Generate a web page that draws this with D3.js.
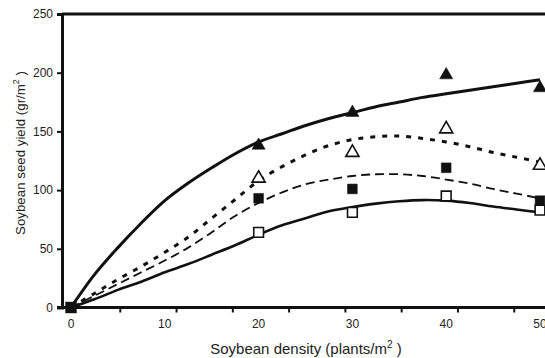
<!DOCTYPE html>
<html><head><meta charset="utf-8">
<script src="https://cdn.jsdelivr.net/npm/d3@7"></script>
<style>body{margin:0;background:#fff}svg{display:block}text{font-family:"Liberation Sans",Arial,sans-serif;fill:#222}</style>
</head><body><svg id="c" width="545" height="358"></svg>
<script>
// ---- data ----
const densities = [0, 20, 30, 40, 50];
const filledTriangle = [0, 138, 166, 198, 187];
const openTriangle   = [0, 110, 132, 152, 121];
const filledSquare   = [0, 93, 101, 119, 91];
const openSquare     = [0, 64, 81, 95, 83];

const curveX = [0, 2.5, 5, 7.5, 10, 12.5, 15, 17.5, 20, 22.5, 25, 27.5, 30, 32.5, 35, 37.5, 40, 42.5, 45, 47.5, 50];
const fitFilledTriangle = [0, 28, 51, 72, 91, 106, 119, 131, 141, 148, 155, 161, 166, 171, 175, 179, 182, 185, 188, 191, 194];
const fitOpenTriangle   = [0, 12, 24, 35, 47, 60, 76, 92, 108, 120, 130, 138, 143, 145.5, 146, 144, 141, 137, 132, 128, 124];
const fitFilledSquare   = [0, 10, 20, 30, 40, 51, 64, 78, 89, 98, 105, 109, 112, 113.5, 113.5, 112, 109, 105.5, 101, 97, 93];
const fitOpenSquare     = [0, 7, 15, 22, 30, 37, 45, 53, 62, 70, 76, 82, 85.5, 88.5, 90.5, 91.5, 91, 89, 86, 83.5, 81];

const xTickLabels = [0, 10, 20, 30, 40, 50];
const xTickMarks = [5.2, 11.2, 17.2, 23.2, 29.2, 35.2, 41.2, 47.2];
const yTicks = [0, 50, 100, 150, 200, 250];

// ---- drawing ----
const svg = d3.select("#c");
const x = d3.scaleLinear().domain([0, 50]).range([71, 540]);
const y = d3.scaleLinear().domain([0, 250]).range([307.5, 14]);
const axisLeftX = 62, xEnd = 560;

// frame: top line
svg.append("line").attr("x1", axisLeftX).attr("x2", xEnd).attr("y1", y(250)).attr("y2", y(250))
  .attr("stroke", "#111").attr("stroke-width", 3);

// y axis
const ya = svg.append("g").attr("transform", `translate(${axisLeftX},0)`)
  .call(d3.axisLeft(y).tickValues(yTicks).tickSize(5).tickPadding(4).tickFormat(d3.format("d")));
ya.select(".domain").attr("stroke", "#111").attr("stroke-width", 3);
ya.selectAll(".tick line").attr("stroke", "#111").attr("stroke-width", 2);
ya.selectAll(".tick text").attr("font-size", 12).attr("fill", "#333").style("font-family", "Liberation Sans, Arial, sans-serif");

// x axis line + tick marks
const xa = svg.append("g").attr("transform", `translate(0,${y(0)})`)
  .call(d3.axisBottom(x).tickValues(xTickMarks).tickSize(5).tickFormat(""));
xa.select(".domain").remove();
xa.selectAll(".tick line").attr("stroke", "#111").attr("stroke-width", 2);
svg.append("line").attr("x1", 57).attr("x2", xEnd).attr("y1", y(0)).attr("y2", y(0))
  .attr("stroke", "#111").attr("stroke-width", 3);
// x tick labels
svg.append("g").selectAll("text").data(xTickLabels).join("text")
  .attr("x", d => x(d)).attr("y", y(0) + 20).attr("text-anchor", "middle")
  .attr("font-size", 12).attr("fill", "#333").text(d => d);

// axis titles
const xt = svg.append("text").attr("x", 306).attr("y", 354).attr("text-anchor", "middle").attr("font-size", 15);
xt.append("tspan").text("Soybean density (plants/m");
xt.append("tspan").attr("font-size", 10).attr("dy", -6).text("2");
xt.append("tspan").attr("dy", 6).text(" )");

const yt = svg.append("text").attr("transform", "translate(25,153) rotate(-90)").attr("text-anchor", "middle").attr("font-size", 13.3);
yt.append("tspan").text("Soybean seed yield (gr/m");
yt.append("tspan").attr("font-size", 9).attr("dy", -6).text("2");
yt.append("tspan").attr("dy", 6).text(" )");

// curves
const line = d3.line().x(d => x(d[0])).y(d => y(d[1])).curve(d3.curveCatmullRom.alpha(0.5));
const plot = svg.append("g");
function drawCurve(vals, width, dash) {
  plot.append("path").datum(curveX.map((c, i) => [c, vals[i]]))
    .attr("d", line).attr("fill", "none").attr("stroke", "#111")
    .attr("stroke-width", width).attr("stroke-dasharray", dash);
}
drawCurve(fitFilledTriangle, 3, null);
drawCurve(fitOpenTriangle, 3, "5,7");
drawCurve(fitFilledSquare, 1.8, "9,5");
drawCurve(fitOpenSquare, 2.6, null);

// markers
const tri = d3.symbol().type(d3.symbolTriangle).size(75);
const sq = d3.symbol().type(d3.symbolSquare).size(95);
function drawMarkers(vals, sym, filled) {
  plot.append("g").selectAll("path").data(densities.map((d, i) => [d, vals[i]]).filter(d => d[0] > 0)).join("path")
    .attr("transform", d => `translate(${x(d[0])},${y(d[1])})`)
    .attr("d", sym)
    .attr("fill", filled ? "#111" : "#fff").attr("stroke", "#111").attr("stroke-width", filled ? 0.5 : 1.6);
}
drawMarkers(openSquare, sq, false);
drawMarkers(filledSquare, sq, true);
drawMarkers(openTriangle, tri, false);
drawMarkers(filledTriangle, tri, true);
// origin marker (all series share 0,0)
plot.append("path").attr("transform", `translate(${x(densities[0])},${y(filledSquare[0])})`)
  .attr("d", d3.symbol().type(d3.symbolSquare).size(130)).attr("fill", "#111");
</script></body></html>
